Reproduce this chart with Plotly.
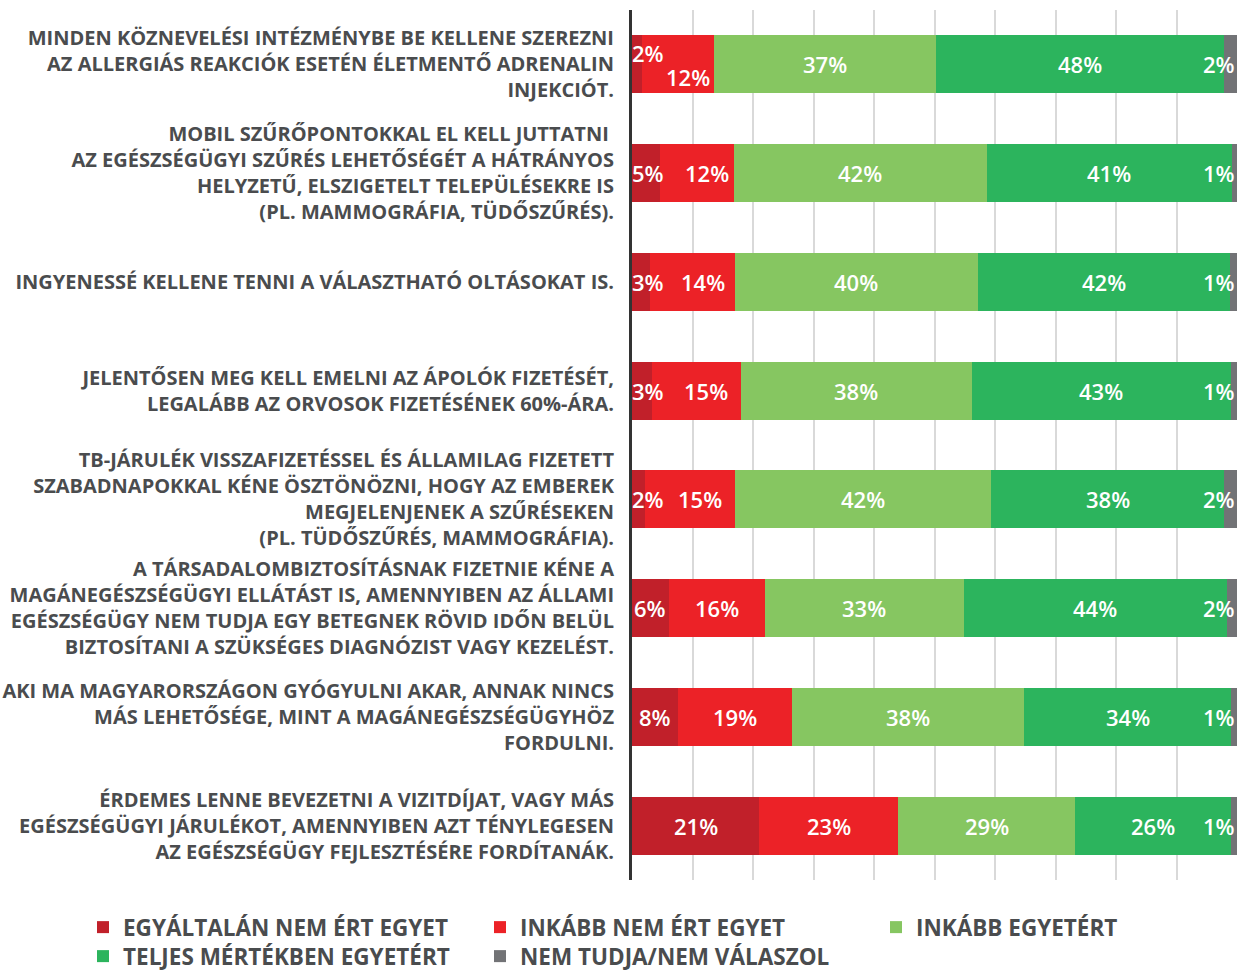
import plotly.graph_objects as go
import numpy as np

categories = [
    "MINDEN KÖZNEVELÉSI INTÉZMÉNYBE BE KELLENE SZEREZNI<br>AZ ALLERGIÁS REAKCIÓK ESETÉN ÉLETMENTŐ ADRENALIN<br>INJEKCIÓT.",
    "MOBIL SZŰRŐPONTOKKAL EL KELL JUTTATNI <br>AZ EGÉSZSÉGÜGYI SZŰRÉS LEHETŐSÉGÉT A HÁTRÁNYOS<br>HELYZETŰ, ELSZIGETELT TELEPÜLÉSEKRE IS<br>(PL. MAMMOGRÁFIA, TÜDŐSZŰRÉS).",
    "INGYENESSÉ KELLENE TENNI A VÁLASZTHATÓ OLTÁSOKAT IS.",
    "JELENTŐSEN MEG KELL EMELNI AZ ÁPOLÓK FIZETÉSÉT,<br>LEGALÁBB AZ ORVOSOK FIZETÉSÉNEK 60%-ÁRA.",
    "TB-JÁRULÉK VISSZAFIZETÉSSEL ÉS ÁLLAMILAG FIZETETT<br>SZABADNAPOKKAL KÉNE ÖSZTÖNÖZNI, HOGY AZ EMBEREK<br>MEGJELENJENEK A SZŰRÉSEKEN<br>(PL. TÜDŐSZŰRÉS, MAMMOGRÁFIA).",
    "A TÁRSADALOMBIZTOSÍTÁSNAK FIZETNIE KÉNE A<br>MAGÁNEGÉSZSÉGÜGYI ELLÁTÁST IS, AMENNYIBEN AZ ÁLLAMI<br>EGÉSZSÉGÜGY NEM TUDJA EGY BETEGNEK RÖVID IDŐN BELÜL<br>BIZTOSÍTANI A SZÜKSÉGES DIAGNÓZIST VAGY KEZELÉST.",
    "AKI MA MAGYARORSZÁGON GYÓGYULNI AKAR, ANNAK NINCS<br>MÁS LEHETŐSÉGE, MINT A MAGÁNEGÉSZSÉGÜGYHÖZ<br>FORDULNI.",
    "ÉRDEMES LENNE BEVEZETNI A VIZITDÍJAT, VAGY MÁS<br>EGÉSZSÉGÜGYI JÁRULÉKOT, AMENNYIBEN AZT TÉNYLEGESEN<br>AZ EGÉSZSÉGÜGY FEJLESZTÉSÉRE FORDÍTANÁK.",
]

series_names = [
    "EGYÁLTALÁN NEM ÉRT EGYET",
    "INKÁBB NEM ÉRT EGYET",
    "INKÁBB EGYETÉRT",
    "TELJES MÉRTÉKBEN EGYETÉRT",
    "NEM TUDJA/NEM VÁLASZOL",
]

strongly_disagree = [1.6, 4.6, 3.0, 3.3, 2.1, 6.1, 7.6, 21.0]
disagree = [11.9, 12.2, 14.0, 14.7, 14.9, 15.9, 18.8, 23.0]
agree = [36.7, 41.8, 40.2, 38.2, 42.4, 32.8, 38.4, 29.2]
strongly_agree = [47.7, 40.6, 41.6, 42.8, 38.4, 43.6, 34.2, 25.8]
no_answer = [2.1, 0.8, 1.2, 1.0, 2.2, 1.6, 1.0, 1.0]

colors = ["#c1202a", "#ec2227", "#86c661", "#2cb45d", "#727376"]
text_color = "#4a4c4e"
FONT = "Open Sans"

series = [strongly_disagree, disagree, agree, strongly_agree, no_answer]

W, H = 1239, 971
# legend grid: (left px, top px) for each series entry
legend_pos = [(83, 906), (480, 906), (876, 906), (83, 935), (480, 935)]
legend_ids = ["legend", "legend2", "legend3", "legend4", "legend5"]

fig = go.Figure()
for name, vals, col, lg in zip(series_names, series, colors, legend_ids):
    fig.add_trace(go.Bar(
        y=categories, x=vals, name=name, orientation="h",
        marker=dict(color=col, line=dict(width=0)),
        hoverinfo="x+name", legend=lg, showlegend=True,
    ))

# value labels
arr = np.array(series)
cum = np.cumsum(arr, axis=0)
annotations = []
for j in range(len(categories)):
    for i in range(len(series)):
        v = arr[i, j]
        start = cum[i, j] - v
        mid = start + v / 2
        label = f"{v:.0f}%"
        xa, xanchor, xshift, yshift = mid, "center", 0, 0
        if i == 0:
            xa = max(mid, 2.7)
            if j == 0:
                yshift = 11
        elif i == 1:
            if arr[0, j] < 5:
                xshift = 10
            if j == 0:
                yshift = -13
        elif i == 4:
            xa, xanchor = 100, "right"
        annotations.append(dict(
            x=xa, y=categories[j], xref="x", yref="y", text=label,
            showarrow=False, xanchor=xanchor, xshift=xshift, yshift=yshift,
            font=dict(family=FONT, size=22, color="white", weight=600),
        ))

legend_font = dict(family=FONT, size=22.5, color=text_color, weight=700)


def legend_box(px_left, px_top):
    return dict(orientation="h", xref="container", yref="container",
                x=px_left / W, y=1 - px_top / H, xanchor="left", yanchor="top",
                font=legend_font, traceorder="normal", visible=True,
                itemclick=False, itemdoubleclick=False, bgcolor="rgba(0,0,0,0)")


legends = {lg: legend_box(*pos) for lg, pos in zip(legend_ids, legend_pos)}

fig.update_layout(
    showlegend=True,
    barmode="stack",
    bargap=0.465,
    width=W, height=H,
    margin=dict(l=632, r=2, t=10, b=91),
    plot_bgcolor="white", paper_bgcolor="white",
    font=dict(family=FONT, color=text_color),
    annotations=annotations,
    xaxis=dict(range=[0, 100], dtick=10, showgrid=True, gridcolor="#d9d9d9",
               gridwidth=2, showticklabels=False, zeroline=False, fixedrange=True),
    yaxis=dict(autorange="reversed", showline=True, linecolor="#333333", linewidth=3,
               ticks="", ticklabelstandoff=11, automargin=False, fixedrange=True,
               tickfont=dict(family=FONT, size=20, color=text_color, weight=700),
               showgrid=False),
    **legends,
)

fig.write_html(
    "out.html",
    config=dict(displayModeBar=False),
    post_script="document.body.style.margin='0';document.body.style.overflow='hidden';",
)
